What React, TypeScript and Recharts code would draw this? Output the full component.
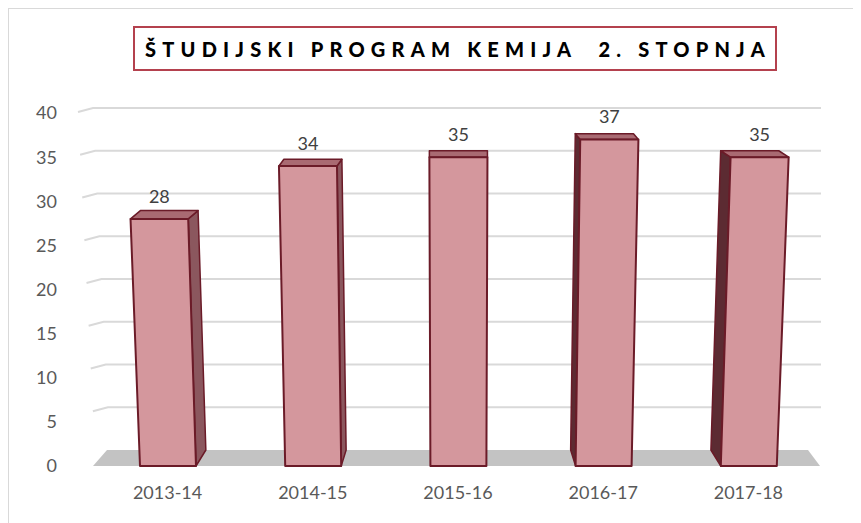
import React from "react";
import { BarChart, Bar, XAxis, YAxis, CartesianGrid, LabelList } from "recharts";

const years = ["2013-14", "2014-15", "2015-16", "2016-17", "2017-18"];
const students = [28, 34, 35, 37, 35];
const yTicks = [0, 5, 10, 15, 20, 25, 30, 35, 40];
const title = "ŠTUDIJSKI PROGRAM KEMIJA  2. STOPNJA";

const data = years.map((year, i) => ({ year, students: students[i] }));

// chart geometry (used for the fake 3D perspective)
const W = 845;
const H = 514;
const MARGIN = { top: 104, right: 33, left: 0, bottom: 17 };
const Y_AXIS_W = 86;
const X_AXIS_H = 40;
const PLOT_TOP = MARGIN.top;
const PLOT_BOTTOM = H - MARGIN.bottom - X_AXIS_H;
const PLOT_LEFT = MARGIN.left + Y_AXIS_W;
const PLOT_RIGHT = W - MARGIN.right;
const CENTER = (PLOT_LEFT + PLOT_RIGHT) / 2;
const PERSP = 8300;
const FLOOR_DEPTH = 16;

const depthAt = (y: number) => {
  const frac = (y - PLOT_TOP) / (PLOT_BOTTOM - PLOT_TOP);
  return 5 + 11 * frac;
};

const pts = (arr: number[][]) => arr.map((p) => p.join(",")).join(" ");

function GridLine(props: any) {
  const { x1, x2, y1 } = props;
  const frac = (y1 - PLOT_TOP) / (PLOT_BOTTOM - PLOT_TOP);
  if (frac > 0.99) {
    return (
      <polygon
        key={props.key}
        points={pts([
          [x1 - 2, y1],
          [x2 - 1, y1],
          [x2 - 13, y1 - FLOOR_DEPTH],
          [x1 + 12, y1 - FLOOR_DEPTH],
        ])}
        fill="#c3c3c3"
      />
    );
  }
  const dy = depthAt(y1);
  const fx = x1 - 17 * (1 - frac);
  return (
    <polyline
      key={props.key}
      points={pts([
        [fx, y1 - dy + 4],
        [fx + 15, y1 - dy],
        [x2, y1 - dy],
      ])}
      fill="none"
      stroke="#d9d9d9"
      strokeWidth={2}
    />
  );
}

function Bar3D(props: any) {
  const { x, y, width, height } = props;
  if (!height) return null;
  const bottom = y + height;
  const s = 1 + height / PERSP;
  const ftl = CENTER + (x - CENTER) * s;
  const ftr = CENTER + (x + width - CENTER) * s;
  const cxb = x + width / 2;
  const dx = 0.034 * (CENTER - cxb);
  const dyTop = depthAt(y);
  const stroke = "#6b1b28";
  let side = null;
  if (dx > 0.5) {
    side = (
      <polygon
        points={pts([
          [ftr, y],
          [ftr + dx, y - dyTop],
          [x + width + dx, bottom - FLOOR_DEPTH],
          [x + width, bottom],
        ])}
        fill="#8b575e"
        stroke={stroke}
        strokeWidth={1.5}
        strokeLinejoin="round"
      />
    );
  } else if (dx < -0.5) {
    side = (
      <polygon
        points={pts([
          [ftl, y],
          [ftl + dx, y - dyTop],
          [x + dx, bottom - FLOOR_DEPTH],
          [x, bottom],
        ])}
        fill="#5c2b32"
        stroke={stroke}
        strokeWidth={1.5}
        strokeLinejoin="round"
      />
    );
  }
  return (
    <g>
      {side}
      <polygon
        points={pts([
          [ftl, y],
          [ftr, y],
          [ftr + dx, y - dyTop],
          [ftl + dx, y - dyTop],
        ])}
        fill="#a96a72"
        stroke={stroke}
        strokeWidth={1.5}
        strokeLinejoin="round"
      />
      <polygon
        points={pts([
          [ftl, y],
          [ftr, y],
          [x + width, bottom],
          [x, bottom],
        ])}
        fill="#d4979d"
        stroke={stroke}
        strokeWidth={2}
        strokeLinejoin="round"
      />
    </g>
  );
}

function ValueLabel(props: any) {
  const { x, y, width, height, value } = props;
  const cx = CENTER + (x + width / 2 - CENTER) * (1 + height / PERSP);
  return (
    <text
      x={cx}
      y={y - 23}
      textAnchor="middle"
      dominantBaseline="central"
      fontSize={18}
      fill="#404040"
      fontFamily="Lato, sans-serif"
    >
      {value}
    </text>
  );
}

export default function App() {
  const tick = { fontSize: 18, fill: "#595959", fontFamily: "Lato, sans-serif" };
  return (
    <div
      style={{
        position: "relative",
        width: W,
        height: H,
        border: "1px solid #d9d9d9",
        background: "#fff",
        fontFamily: "Lato, sans-serif",
      }}
    >
      <div
        style={{
          position: "absolute",
          left: 124,
          top: 17,
          width: 644,
          height: 45,
          boxSizing: "border-box",
          border: "2px solid #b4414e",
          display: "flex",
          alignItems: "center",
          justifyContent: "center",
          paddingLeft: 6,
          fontWeight: 900,
          fontSize: 20,
          letterSpacing: 6.2,
          color: "#000",
          whiteSpace: "pre",
          zIndex: 1,
        }}
      >
        {title}
      </div>
      <BarChart width={W} height={H} data={data} margin={MARGIN} barSize={56}>
        <CartesianGrid vertical={false} horizontal={GridLine} />
        <XAxis
          dataKey="year"
          height={X_AXIS_H}
          axisLine={false}
          tickLine={false}
          tickSize={0}
          tickMargin={20}
          tick={tick}
        />
        <YAxis
          width={Y_AXIS_W}
          domain={[0, 40]}
          ticks={yTicks}
          axisLine={false}
          tickLine={false}
          tickSize={0}
          tickMargin={38}
          tick={tick}
        />
        <Bar dataKey="students" shape={Bar3D} isAnimationActive={false}>
          <LabelList dataKey="students" content={ValueLabel} />
        </Bar>
      </BarChart>
    </div>
  );
}
